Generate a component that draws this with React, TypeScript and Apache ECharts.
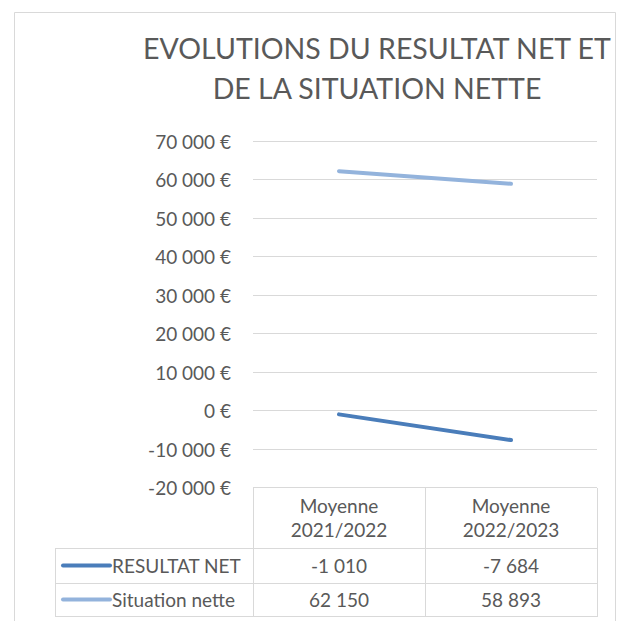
import React, { useEffect, useRef } from "react";
import * as echarts from "echarts";

const TITLE = "EVOLUTIONS DU RESULTAT NET ET\nDE LA SITUATION NETTE";
const categories = ["Moyenne\n2021/2022", "Moyenne\n2022/2023"];
const seriesNames = ["RESULTAT NET", "Situation nette"];
const resultatNet = [-1010, -7684];
const situationNette = [62150, 58893];
const seriesColors = ["#4a7dba", "#93b3dc"];
const yMin = -20000;
const yMax = 70000;
const yInterval = 10000;

const FONT = "Lato";
const TEXT = "#595959";
const BORDER = "#d9d9d9";

function fmt(v: number): string {
  const s = Math.abs(v).toString().replace(/\B(?=(\d{3})+(?!\d))/g, " ");
  return (v < 0 ? "-" : "") + s;
}

export default function App() {
  const ref = useRef<HTMLDivElement>(null);
  useEffect(() => {
    if (!ref.current) return;
    const chart = echarts.init(ref.current, undefined, { renderer: "svg" });
    const gridLeft = 253;
    const gridRight = 597;
    const mid = (gridLeft + gridRight) / 2;
    const colCenters = [(gridLeft + mid) / 2, (mid + gridRight) / 2];
    const rowLines = [548, 583, 616];
    const rowCenters = [565.5, 599.5];
    const tableLeft = 55;
    const allValues = [resultatNet, situationNette];

    const graphics: any[] = [
      {
        type: "rect",
        shape: { x: 14.5, y: 12.5, width: 601, height: 640 },
        style: { fill: "none", stroke: BORDER, lineWidth: 1 },
        silent: true,
        z: -1,
      },
    ];
    [gridLeft, mid, gridRight].forEach((x) => {
      graphics.push({
        type: "line",
        shape: { x1: x + 0.5, y1: 488, x2: x + 0.5, y2: rowLines[2] },
        style: { stroke: BORDER, lineWidth: 1 },
      });
    });
    graphics.push({
      type: "line",
      shape: { x1: tableLeft + 0.5, y1: rowLines[0], x2: tableLeft + 0.5, y2: rowLines[2] },
      style: { stroke: BORDER, lineWidth: 1 },
    });
    rowLines.forEach((y) => {
      graphics.push({
        type: "line",
        shape: { x1: tableLeft, y1: y + 0.5, x2: gridRight + 1, y2: y + 0.5 },
        style: { stroke: BORDER, lineWidth: 1 },
      });
    });
    seriesNames.forEach((name, i) => {
      const cy = rowCenters[i];
      graphics.push({
        type: "line",
        shape: { x1: 63, y1: cy, x2: 110, y2: cy },
        style: { stroke: seriesColors[i], lineWidth: 4, lineCap: "round" },
      });
      graphics.push({
        type: "text",
        x: 112,
        y: cy,
        style: {
          text: name,
          fill: TEXT,
          font: `19px ${FONT}`,
          textAlign: "left",
          textVerticalAlign: "middle",
        },
      });
      allValues[i].forEach((v, j) => {
        graphics.push({
          type: "text",
          x: colCenters[j],
          y: cy,
          style: {
            text: fmt(v),
            fill: TEXT,
            font: `19px ${FONT}`,
            textAlign: "center",
            textVerticalAlign: "middle",
          },
        });
      });
    });

    chart.setOption({
      animation: false,
      backgroundColor: "#ffffff",
      title: {
        text: TITLE,
        left: 372,
        top: 23,
        textAlign: "center",
        textStyle: {
          fontFamily: FONT,
          fontSize: 28.5,
          fontWeight: "normal",
          color: TEXT,
          lineHeight: 40,
        },
      },
      grid: { left: gridLeft, right: 625 - gridRight, top: 141, bottom: 621 - 487.5, containLabel: false },
      xAxis: {
        type: "category",
        data: categories,
        boundaryGap: true,
        axisLine: { show: false },
        axisTick: { show: false },
        axisLabel: {
          color: TEXT,
          fontFamily: FONT,
          fontSize: 19,
          lineHeight: 24,
          margin: 6,
        },
      },
      yAxis: {
        type: "value",
        min: yMin,
        max: yMax,
        interval: yInterval,
        axisLine: { show: false },
        axisTick: { show: false },
        splitLine: { lineStyle: { color: BORDER, width: 1 } },
        axisLabel: {
          color: TEXT,
          fontFamily: FONT,
          fontSize: 19,
          margin: 22,
          formatter: (v: number) => fmt(v) + " €",
        },
      },
      series: [
        {
          name: seriesNames[0],
          type: "line",
          data: resultatNet,
          symbol: "none",
          lineStyle: { color: seriesColors[0], width: 4, cap: "round" },
          itemStyle: { color: seriesColors[0] },
        },
        {
          name: seriesNames[1],
          type: "line",
          data: situationNette,
          symbol: "none",
          lineStyle: { color: seriesColors[1], width: 4, cap: "round" },
          itemStyle: { color: seriesColors[1] },
        },
      ],
      graphic: graphics,
    });
    return () => chart.dispose();
  }, []);
  return (
    <div
      ref={ref}
      style={{ position: "fixed", left: 0, top: 0, width: 625, height: 621, background: "#fff" }}
    />
  );
}
